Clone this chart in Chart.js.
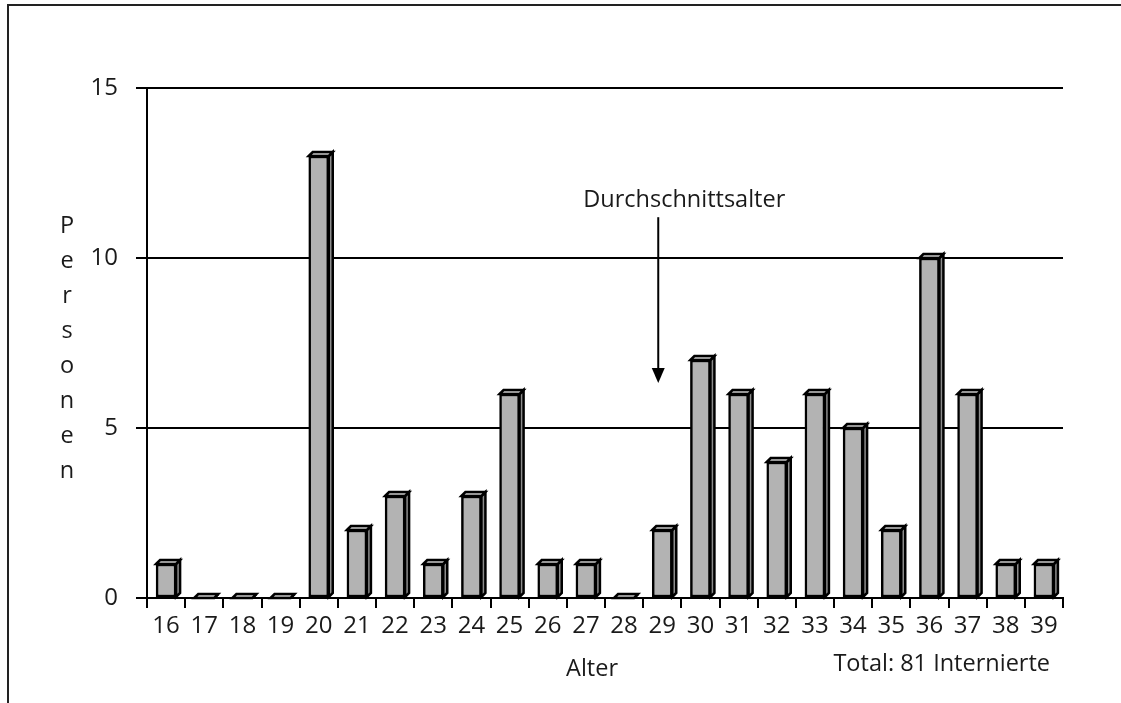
<!DOCTYPE html>
<html>
<head>
<meta charset="utf-8">
<script src="https://cdn.jsdelivr.net/npm/chart.js@4/dist/chart.umd.min.js"></script>
<style>
  body { margin: 0; background: #fff; }
</style>
</head>
<body>
<canvas id="chart" width="1121" height="703"></canvas>
<script>
const alter = ['16', '17', '18', '19', '20', '21', '22', '23', '24', '25', '26', '27',
               '28', '29', '30', '31', '32', '33', '34', '35', '36', '37', '38', '39'];
const personen = [1, 0, 0, 0, 13, 2, 3, 1, 3, 6, 1, 1, 0, 2, 7, 6, 4, 6, 5, 2, 10, 6, 1, 1];
const yTicks = [0, 5, 10, 15];
const durchschnitt = '29';
const pfeilText = 'Durchschnittsalter';
const yTitel = 'Personen';
const xTitel = 'Alter';
const fussnote = 'Total: 81 Internierte';

const schrift = '"Open Sans", "Noto Sans", sans-serif';
const textFarbe = '#1a1a1a';
const tiefe = 4;

Chart.defaults.font.family = schrift;
Chart.defaults.color = textFarbe;

// Rahmen um das ganze Bild
const rahmen = {
  id: 'rahmen',
  beforeDraw(chart) {
    const c = chart.ctx;
    c.save();
    c.fillStyle = '#fff';
    c.fillRect(0, 0, chart.width, chart.height);
    c.strokeStyle = '#222';
    c.lineWidth = 2;
    c.beginPath();
    c.moveTo(8, chart.height);
    c.lineTo(8, 5);
    c.lineTo(chart.width, 5);
    c.stroke();
    c.restore();
  }
};

// 3D-Saeulen: Deckel und Seitenflaeche
const saeulen3d = {
  id: 'saeulen3d',
  afterDatasetsDraw(chart) {
    const c = chart.ctx;
    const meta = chart.getDatasetMeta(0);
    c.save();
    c.lineJoin = 'miter';
    meta.data.forEach(bar => {
      const p = bar.getProps(['x', 'y', 'base', 'width'], true);
      const l = p.x - p.width / 2, r = p.x + p.width / 2;
      const t = p.y, b = p.base;
      c.lineWidth = 2.5;
      c.strokeStyle = '#000';
      // Seite
      c.fillStyle = '#8c8c8c';
      c.beginPath();
      c.moveTo(r, t);
      c.lineTo(r + tiefe, t - tiefe);
      c.lineTo(r + tiefe, b - tiefe);
      c.lineTo(r, b);
      c.closePath();
      c.fill();
      c.stroke();
      // Deckel
      c.fillStyle = '#c8c8c8';
      c.beginPath();
      c.moveTo(l, t);
      c.lineTo(l + tiefe, t - tiefe);
      c.lineTo(r + tiefe, t - tiefe);
      c.lineTo(r, t);
      c.closePath();
      c.fill();
      c.stroke();
    });
    c.restore();
  }
};

// Beschriftungen, Pfeil
const beschriftung = {
  id: 'beschriftung',
  afterDraw(chart) {
    const c = chart.ctx;
    const xs = chart.scales.x, ys = chart.scales.y;
    c.save();
    c.fillStyle = textFarbe;
    c.font = '23.5px ' + schrift;
    c.textAlign = 'center';
    c.textBaseline = 'middle';

    // Y-Titel senkrecht gestapelt
    yTitel.split('').forEach((ch, i) => c.fillText(ch, 67, 226 + i * 35));

    // X-Titel
    c.fillText(xTitel, 592, 669);

    // Fussnote
    c.textAlign = 'right';
    c.fillText(fussnote, 1050, 664);

    // Pfeil zum Durchschnittsalter
    const px = xs.getPixelForValue(alter.indexOf(durchschnitt)) - 4;
    const yOben = ys.getPixelForValue(11.2);
    const ySpitze = ys.getPixelForValue(6.32);
    c.textAlign = 'center';
    c.fillText(pfeilText, px + 26, ys.getPixelForValue(11.7));
    c.strokeStyle = '#000';
    c.lineWidth = 2;
    c.beginPath();
    c.moveTo(px, yOben);
    c.lineTo(px, ySpitze - 10);
    c.stroke();
    c.fillStyle = '#000';
    c.beginPath();
    c.moveTo(px - 6.5, ySpitze - 15);
    c.lineTo(px + 6.5, ySpitze - 15);
    c.lineTo(px, ySpitze);
    c.closePath();
    c.fill();
    c.restore();
  }
};

new Chart(document.getElementById('chart'), {
  type: 'bar',
  data: {
    labels: alter,
    datasets: [{
      data: personen,
      backgroundColor: '#b3b3b3',
      borderColor: '#000',
      borderWidth: 2.5,
      borderSkipped: false,
      barThickness: 20,
      minBarLength: 0
    }]
  },
  options: {
    responsive: false,
    animation: false,
    events: [],
    layout: { padding: { left: 0, top: 88, right: 58, bottom: 0 } },
    plugins: {
      legend: { display: false },
      tooltip: { enabled: false }
    },
    scales: {
      x: {
        grid: { drawOnChartArea: false, drawTicks: true, tickLength: 10, color: '#000', lineWidth: 2 },
        border: { display: true, color: '#000', width: 2 },
        ticks: { font: { size: 24 }, color: textFarbe, padding: 4, maxRotation: 0, autoSkip: false },
        afterFit(s) { s.height = 105; }
      },
      y: {
        min: 0,
        max: 15,
        afterBuildTicks(s) { s.ticks = yTicks.map(v => ({ value: v })); },
        grid: { color: '#000', lineWidth: 2, tickLength: 11, drawTicks: true },
        border: { display: true, color: '#000', width: 2 },
        ticks: { font: { size: 24 }, color: textFarbe, padding: 18 },
        afterFit(s) { s.width = 147; }
      }
    }
  },
  plugins: [rahmen, saeulen3d, beschriftung]
});
</script>
</body>
</html>
